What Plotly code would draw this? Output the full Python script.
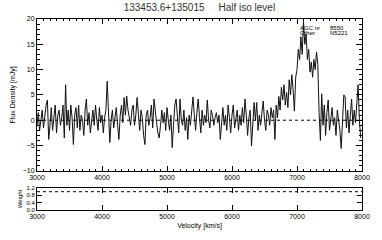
import numpy as np
import plotly.graph_objects as go

title_text = "133453.6+135015\u00a0\u00a0\u00a0\u00a0\u00a0Half iso level"
ann_lines = [("AGC nr", "8550"), ("Other", "N5221")]

v_start = 3000
v_step = 20
flux = [
    # 3000-3480
    -1, 1.5, -2, 0.5, 2, -1.5, 1, 3, 4, -3.8, -1, 2.5, -2, 0, 3, -2.5, 1, 2, -1, 0.5, 3, -3.5, 7, -1, 2,
    # 3500-3980
    -2, 3, 0.5, -4.8, 1, 2.5, -1.5, 3, -2, 1, 0, -3, 2, 4.2, -1, 1.5, -2.5, 0.5, 2, -1, 3, 0, -2, 2.5, -0.5,
    # 4000-4480
    1, -2.5, 0.5, 2, 7.7, 1, -4.4, 0, 2, -1.5, 1, 2.5, -1, -3.8, 1, 3, -0.5, 4.5, 1, 4.8, 2, 0.5, -1, 2, 3,
    # 4500-4980
    -1, 1, 4.5, 0, -2, 2, 0.5, -3, -4.8, 1, 2, -1, 0.5, 3, -1.5, 4.2, 1, -0.5, -2.5, -3.5, -1, 2, -0.5, 1.5, -2,
    # 5000-5480
    2.5, 0, -2, 1, -5.4, -1, 3, 4.2, 1, -2.5, 4.2, 0, -1, 2, -2, 0.5, -3.8, 1, -1, 2, 4.6, 1, -2, 1.5, 4.2,
    # 5500-5980
    0.5, -2.5, 2, -1, 1, -0.5, 4, 0, -1.5, 2, 1, -1, 0.5, 1.5, -0.5, 1, -3.8, 0, 2.5, -1, 1, -2, 3, 0.5, -2.5,
    # 6000-6480
    1, 3, -1.5, 0.5, 2, -2, 1, -1, 2.5, -0.5, 4.2, 1, -3, 0.5, 2, -5.1, -1, 3.5, 0, 3.5, -2, 1, -1, 2, 3.8,
    # 6500-6980
    0, -2, 2, 1, -1, 2.5, 0.5, 2, -3.8, 3, 0.5, 4.7, 2, 6.5, 4, 7, 3, 5.5, 2.5, 8, 5, 9, 6, 1.8, 8.5,
    # 7000-7480
    10, 14, 12, 16.5, 13, 19.5, 15, 17, 12, 14, 9.5, 11.5, 8.5, 12, 10, 13.5, 11, 1.5, -4, 5.2, -1, 3, -3, 1.5, 4,
    # 7500-7980
    -2, 1, 2.5, -1, 0.5, -3, 2, 0, -2, -5.6, 1, 5, 4.6, -1.5, 2, -2.5, 1, 4.2, -1, 2, -0.5, 3, 7, 0, -3.5,
]
velocity = [v_start + i * v_step for i in range(len(flux))]
weight_level = 1.0

FONT = "Liberation Sans"
fig = go.Figure()

fig.add_trace(go.Scatter(x=[3000, 8000], y=[0, 0], mode="lines",
                         line=dict(color="black", width=1, dash="dot"),
                         xaxis="x", yaxis="y", hoverinfo="skip"))
fig.add_trace(go.Scatter(x=velocity, y=flux, mode="lines",
                         line=dict(color="#111", width=1),
                         xaxis="x", yaxis="y"))
fig.add_trace(go.Scatter(x=[3000, 8000], y=[weight_level, weight_level], mode="lines",
                         line=dict(color="black", width=1, dash="dot"),
                         xaxis="x2", yaxis="y2"))

axis_common = dict(showline=True, linecolor="black", linewidth=1, mirror="allticks",
                   ticks="inside", tickcolor="black", showgrid=False, zeroline=False)

tf = dict(family=FONT, size=7, color="black")
fig.update_layout(
    width=382, height=240,
    margin=dict(l=33, r=16, t=19, b=25),
    paper_bgcolor="white", plot_bgcolor="white",
    showlegend=False,
    title=dict(text=title_text, x=0.522, xanchor="center", y=0.97, yanchor="middle",
               font=dict(family=FONT, size=10, color="#333")),
    xaxis=dict(domain=[0, 1], range=[3000, 8000], anchor="y", tickvals=[3000, 4000, 5000, 6000, 7000, 8000],
               ticklen=5, minor=dict(ticks="inside", ticklen=2, dtick=100, tickcolor="black"),
               tickfont=tf, **axis_common),
    yaxis=dict(domain=[0.205, 1.0], range=[-10, 20], anchor="x", tickvals=[-10, -5, 0, 5, 10, 15, 20],
               ticklen=6, minor=dict(ticks="inside", ticklen=3, dtick=1, tickcolor="black"),
               tickfont=tf,
               title=dict(text="Flux Density [mJy]", standoff=6, font=dict(family=FONT, size=7, color="black")),
               **axis_common),
    xaxis2=dict(domain=[0, 1], range=[3000, 8000], anchor="y2", tickvals=[3000, 4000, 5000, 6000, 7000, 8000],
                ticklen=5, tickfont=tf,
                title=dict(text="Velocity [km/s]", standoff=3, font=dict(family=FONT, size=7, color="black")),
                **axis_common),
    yaxis2=dict(domain=[0, 0.115], range=[0, 1.2], anchor="x2", tickvals=[0.0, 0.4, 0.8, 1.2],
                ticktext=["0.0", "0.4", "0.8", "1.2"], ticklen=5,
                tickfont=dict(family=FONT, size=6, color="black"),
                title=dict(text="Weight", standoff=3, font=dict(family=FONT, size=6, color="black")),
                **axis_common),
)

for i, (a, b) in enumerate(ann_lines):
    fig.add_annotation(x=7020, y=18.3 - i * 1.15, xref="x", yref="y", text=a, showarrow=False,
                       xanchor="left", yanchor="middle", font=dict(family=FONT, size=6, color="black"))
    fig.add_annotation(x=7480, y=18.3 - i * 1.15, xref="x", yref="y", text=b, showarrow=False,
                       xanchor="left", yanchor="middle", font=dict(family=FONT, size=6, color="black"))

fig.write_html("out.html", config={"displayModeBar": False},
               post_script="document.body.style.margin='0';")
